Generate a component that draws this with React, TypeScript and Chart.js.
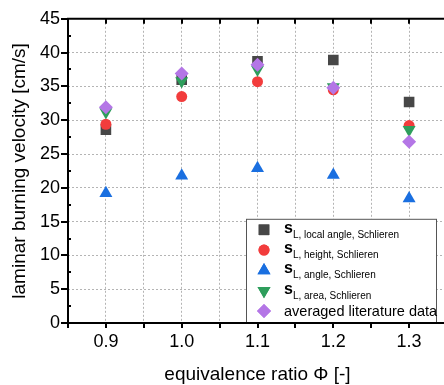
import React, { useEffect, useRef } from "react";
import { Chart, registerables } from "chart.js";
import { drawPoint } from "chart.js/helpers";

Chart.register(...registerables);

const phi = [0.9, 1.0, 1.1, 1.2, 1.3];
const sLocalAngle = [28.6, 36.0, 38.7, 38.9, 32.7];
const sHeight = [29.4, 33.5, 35.7, 34.5, 29.2];
const sAngle = [19.2, 21.8, 22.9, 21.9, 18.4];
const sArea = [31.2, 35.8, 37.5, 34.9, 28.6];
const literature = [31.9, 36.9, 38.2, 34.8, 26.8];

const FONT = "'Liberation Sans', Arial, sans-serif";

type Item = { color: string; style: string; rot: number; r: number; sub?: string; label?: string };
const legendItems: Item[] = [
  { color: "#474747", style: "rect", rot: 0, r: 7.5, sub: "L, local angle, Schlieren" },
  { color: "#f23c3c", style: "circle", rot: 0, r: 5.5, sub: "L, height, Schlieren" },
  { color: "#1a6fe0", style: "triangle", rot: 0, r: 7.5, sub: "L, angle, Schlieren" },
  { color: "#2e9e5c", style: "triangle", rot: 180, r: 7.5, sub: "L, area, Schlieren" },
  { color: "#b476e6", style: "rectRot", rot: 0, r: 7, label: "averaged literature data" },
];

const framePlugin = {
  id: "frame",
  afterDatasetsDraw(chart: any) {
    const { ctx, chartArea } = chart;
    const { left, right, top, bottom } = chartArea;
    const xs = chart.scales.x;
    const ys = chart.scales.y;
    ctx.save();
    // legend box
    const bx = left + 178, by = top + 200, bw = 191, bh = bottom - top - 200;
    ctx.fillStyle = "#ffffff";
    ctx.fillRect(bx, by, bw, bh);
    ctx.strokeStyle = "#555555";
    ctx.lineWidth = 1;
    ctx.strokeRect(bx + 0.5, by + 0.5, bw - 1, bh);
    legendItems.forEach((it, i) => {
      const cy = by + 11 + i * 20.3;
      const mx = bx + 18;
      ctx.fillStyle = it.color;
      ctx.strokeStyle = it.color;
      drawPoint(ctx, { pointStyle: it.style, rotation: it.rot, radius: it.r, borderWidth: 0 } as any, mx, cy);
      ctx.fill();
      ctx.fillStyle = "#000000";
      ctx.textBaseline = "alphabetic";
      ctx.textAlign = "left";
      if (it.sub) {
        ctx.font = `bold 16px ${FONT}`;
        ctx.fillText("s", bx + 38, cy + 3);
        const w = ctx.measureText("s").width;
        ctx.font = `10px ${FONT}`;
        ctx.fillText(it.sub, bx + 38 + w, cy + 8);
      } else if (it.label) {
        ctx.font = `14.5px ${FONT}`;
        ctx.fillText(it.label, bx + 38, cy + 5);
      }
    });
    // frame lines
    ctx.strokeStyle = "#000000";
    ctx.lineWidth = 2;
    ctx.beginPath();
    ctx.moveTo(left, top);
    ctx.lineTo(right + 5, top);
    ctx.moveTo(left, top - 1);
    ctx.lineTo(left, bottom + 1);
    ctx.moveTo(left - 1, bottom);
    ctx.lineTo(right + 5, bottom);
    ctx.stroke();
    // y ticks
    ctx.lineWidth = 2;
    ctx.beginPath();
    for (let v = 0; v <= 45.01; v += 2.5) {
      const y = Math.round(ys.getPixelForValue(v));
      const major = Math.abs(v / 5 - Math.round(v / 5)) < 1e-6;
      if (major) {
        ctx.moveTo(left - 7, y);
        ctx.lineTo(left, y);
      } else {
        ctx.moveTo(left, y);
        ctx.lineTo(left + 3, y);
      }
    }
    // x ticks bottom and top
    for (let k = 0; k <= 10; k++) {
      const v = 0.85 + k * 0.05;
      const x = Math.round(xs.getPixelForValue(v));
      ctx.moveTo(x, bottom);
      ctx.lineTo(x, bottom + 5);
      ctx.moveTo(x, top);
      ctx.lineTo(x, top + 5);
    }
    ctx.stroke();
    ctx.restore();
  },
};

export default function App() {
  const ref = useRef<HTMLCanvasElement | null>(null);
  useEffect(() => {
    if (!ref.current) return;
    const mk = (label: string, data: number[], it: Item) => ({
      label,
      data: phi.map((x, i) => ({ x, y: data[i] })),
      backgroundColor: it.color,
      borderColor: it.color,
      borderWidth: 0,
      pointStyle: it.style,
      rotation: it.rot,
      pointRadius: it.r,
      pointHoverRadius: it.r,
      showLine: false,
    });
    const chart = new Chart(ref.current, {
      type: "scatter",
      data: {
        datasets: [
          mk("sL local angle", sLocalAngle, legendItems[0]),
          mk("sL height", sHeight, legendItems[1]),
          mk("sL angle", sAngle, legendItems[2]),
          mk("sL area", sArea, legendItems[3]),
          mk("averaged literature data", literature, legendItems[4]),
        ].reverse(),
      },
      options: {
        animation: false,
        responsive: false,
        maintainAspectRatio: false,
        layout: { padding: { top: 16, right: 2, left: 0, bottom: 0 } },
        plugins: { legend: { display: false }, tooltip: { enabled: false } },
        scales: {
          x: {
            type: "linear",
            min: 0.85,
            max: 1.35,
            afterFit: (s: any) => { s.height = 62; },
            afterBuildTicks: (s: any) => {
              const t = [];
              for (let k = 0; k <= 10; k++) t.push({ value: +(0.85 + k * 0.05).toFixed(2) });
              s.ticks = t;
            },
            ticks: {
              autoSkip: false,
              maxRotation: 0,
              padding: 8,
              color: "#000000",
              font: { family: FONT, size: 18 },
              callback: (v: any) => {
                const n = Math.round(Number(v) * 100);
                return n % 10 === 0 && n > 85 && n < 135 ? (n / 100).toFixed(1) : "";
              },
            },
            grid: { color: "#b4b4b4", lineWidth: 1, drawTicks: false },
            border: { display: false, dash: [2, 2] },
            title: {
              display: true,
              text: "equivalence ratio Φ [-]",
              color: "#000000",
              font: { family: FONT, size: 19, lineHeight: 1.1 },
              padding: { top: 0, bottom: 0 },
            },
          },
          y: {
            min: 0,
            max: 45,
            afterFit: (s: any) => { s.width = 68; },
            ticks: {
              stepSize: 5,
              padding: 8,
              color: "#000000",
              font: { family: FONT, size: 18 },
            },
            grid: { color: "#b4b4b4", lineWidth: 1, drawTicks: false },
            border: { display: false, dash: [2, 2] },
            title: {
              display: true,
              text: "laminar burning velocity [cm/s]",
              color: "#000000",
              font: { family: FONT, size: 19, lineHeight: 1.2 },
              padding: { top: 8, bottom: 0 },
            },
          },
        },
      },
      plugins: [framePlugin],
    } as any);
    return () => chart.destroy();
  }, []);
  return (
    <div style={{ position: "absolute", left: 0, top: 0, width: 444, height: 385, overflow: "hidden", background: "#fff" }}>
      <canvas ref={ref} width={455} height={385} style={{ display: "block", width: 455, height: 385 }} />
    </div>
  );
}
